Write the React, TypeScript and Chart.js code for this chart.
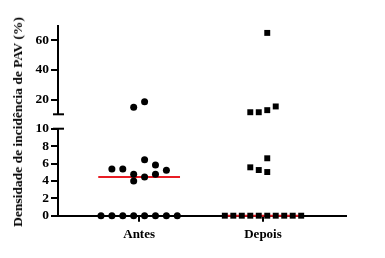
import React, { useEffect, useRef } from "react";
import { Chart, registerables } from "chart.js";

Chart.register(...registerables);

// ---- Data ----
const categories = ["Antes", "Depois"];
const antesValues = [0, 0, 0, 0, 0, 0, 0, 0, 5.37, 5.37, 4.76, 3.99, 6.44, 4.45, 5.83, 4.76, 5.22, 14.8, 18.4];
const antesSlots = [-3.5, -2.5, -1.5, -0.5, 0.5, 1.5, 2.5, 3.5, -2.5, -1.5, -0.5, -0.5, 0.5, 0.5, 1.5, 1.5, 2.5, -0.5, 0.5];
const depoisValues = [0, 0, 0, 0, 0, 0, 0, 0, 0, 0, 5.56, 5.25, 6.6, 5.02, 65.0, 11.4, 11.4, 12.8, 15.3];
const depoisSlots = [-4.5, -3.5, -2.5, -1.5, -0.5, 0.5, 1.5, 2.5, 3.5, 4.5, -1.5, -0.5, 0.5, 0.5, 0.5, -1.5, -0.5, 0.5, 1.5];
const lowerTicks = [0, 2, 4, 6, 8, 10];
const upperTicks = [20, 40, 60];
const lowerRange = [0, 10];
const upperRange = [10, 70];
const yTitle = "Densidade de incidência de PAV (%)";

// ---- Style ----
const FONT = "'Liberation Serif', 'Times New Roman', serif";
const RED = "rgb(232,28,36)";
const groups = [
  { values: antesValues, slots: antesSlots, spacing: 0.088, style: "circle", radius: 3.5 },
  { values: depoisValues, slots: depoisSlots, spacing: 0.0685, style: "rect", radius: 4.2 },
];
const medianHalfWidth = 0.33;
const X_MIN = -0.655;
const X_MAX = 1.67;

function median(arr: number[]) {
  const s = [...arr].sort((a, b) => a - b);
  const m = Math.floor(s.length / 2);
  return s.length % 2 ? s[m] : (s[m - 1] + s[m]) / 2;
}

function buildDatasets(lo: number, hi: number, isLower: boolean) {
  const ds: any[] = [];
  groups.forEach((g, gi) => {
    const pts = g.values
      .map((v, i) => ({ x: gi + g.slots[i] * g.spacing, y: v }))
      .filter((p) => (isLower ? p.y < hi : p.y >= lo));
    ds.push({
      type: "scatter",
      data: pts,
      pointStyle: g.style,
      pointRadius: g.radius,
      pointBackgroundColor: "#000",
      pointBorderColor: "#000",
      pointBorderWidth: 0,
      showLine: false,
      clip: false,
      order: 0,
    });
    const med = median(g.values);
    if (isLower ? med >= lo && med < hi : med >= lo && med <= hi) {
      ds.push({
        type: "line",
        data: [
          { x: gi - medianHalfWidth, y: med },
          { x: gi + medianHalfWidth, y: med },
        ],
        borderColor: RED,
        borderWidth: 2,
        pointRadius: 0,
        showLine: true,
        clip: false,
        order: 1,
      });
    }
  });
  return ds;
}

const capPlugin = (which: "min" | "max") => ({
  id: "breakCap" + which,
  afterDraw(chart: any) {
    const y = chart.scales.y;
    const ctx = chart.ctx;
    const px = y.getPixelForValue(which === "min" ? y.min : y.max);
    const left = chart.chartArea.left;
    ctx.save();
    ctx.strokeStyle = "#000";
    ctx.lineWidth = 2;
    ctx.beginPath();
    ctx.moveTo(left - 5, px);
    ctx.lineTo(left + 6, px);
    ctx.stroke();
    ctx.restore();
  },
});

function makeOptions(range: number[], ticks: number[], showX: boolean, padding: any) {
  return {
    responsive: false,
    animation: false,
    events: [],
    layout: { padding },
    plugins: { legend: { display: false }, tooltip: { enabled: false } },
    scales: {
      x: {
        type: "linear",
        display: showX,
        min: X_MIN,
        max: X_MAX,
        afterBuildTicks: (s: any) => {
          s.ticks = categories.map((_, i) => ({ value: i }));
        },
        afterFit: (s: any) => {
          s.height = showX ? 30 : 0;
          s.paddingLeft = 0;
          s.paddingRight = 0;
        },
        ticks: {
          callback: (v: any) => categories[v] ?? "",
          color: "#000",
          font: { family: FONT, weight: "bold", size: 13 },
          padding: 5,
          maxRotation: 0,
          autoSkip: false,
        },
        grid: { drawOnChartArea: false, drawTicks: true, tickLength: 6, color: "#000", lineWidth: 2 },
        border: { display: true, color: "#000", width: 2 },
      },
      y: {
        type: "linear",
        min: range[0],
        max: range[1],
        afterBuildTicks: (s: any) => {
          s.ticks = ticks.map((v) => ({ value: v }));
        },
        afterFit: (s: any) => {
          s.width = 58;
          s.paddingTop = 0;
          s.paddingBottom = 0;
        },
        ticks: {
          color: "#000",
          font: { family: FONT, weight: "bold", size: 13.5 },
          padding: 2,
          autoSkip: false,
        },
        grid: { drawOnChartArea: false, drawTicks: true, tickLength: 7, color: "#000", lineWidth: 2 },
        border: { display: true, color: "#000", width: 2 },
      },
    },
  };
}

export default function App() {
  const topRef = useRef<HTMLCanvasElement>(null);
  const botRef = useRef<HTMLCanvasElement>(null);

  useEffect(() => {
    const top = new Chart(topRef.current as HTMLCanvasElement, {
      type: "scatter",
      data: { datasets: buildDatasets(upperRange[0], upperRange[1], false) },
      options: makeOptions(upperRange, upperTicks, false, { top: 25.5, bottom: 5.7, left: 0, right: 39 }) as any,
      plugins: [capPlugin("min")],
    } as any);
    const bot = new Chart(botRef.current as HTMLCanvasElement, {
      type: "scatter",
      data: { datasets: buildDatasets(lowerRange[0], lowerRange[1], true) },
      options: makeOptions(lowerRange, lowerTicks, true, { top: 10.7, bottom: 12.3, left: 0, right: 39 }) as any,
      plugins: [capPlugin("max")],
    } as any);
    return () => {
      top.destroy();
      bot.destroy();
    };
  }, []);

  return (
    <div style={{ position: "fixed", left: 0, top: 0, width: 385, height: 258, background: "#fff", overflow: "hidden" }}>
      <canvas ref={topRef} width={385} height={120} style={{ position: "absolute", left: 0, top: 0, width: 385, height: 120 }} />
      <canvas ref={botRef} width={385} height={140} style={{ position: "absolute", left: 0, top: 118, width: 385, height: 140 }} />
      <div
        style={{
          position: "absolute",
          left: 18,
          top: 122,
          transform: "translate(-50%, -50%) rotate(-90deg)",
          whiteSpace: "nowrap",
          fontFamily: FONT,
          fontWeight: "bold",
          fontSize: 13.5,
          color: "#000",
        }}
      >
        {yTitle}
      </div>
    </div>
  );
}
